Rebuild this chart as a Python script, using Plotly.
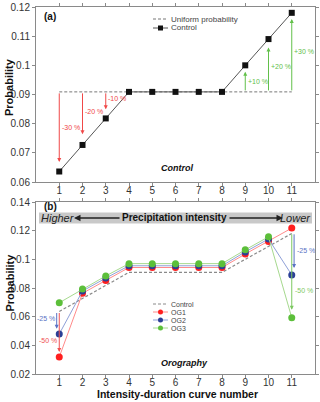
import plotly.graph_objects as go

# Curve numbers and probabilities.
curves = [1, 2, 3, 4, 5, 6, 7, 8, 9, 10, 11]
uniform = [0.0909] * 11
control = [0.0636, 0.0727, 0.0818, 0.0909, 0.0909, 0.0909, 0.0909, 0.0909, 0.1, 0.109, 0.118]
og1 = [0.0318, 0.0763, 0.0853, 0.0943, 0.0943, 0.0943, 0.0943, 0.0943, 0.1037, 0.1125, 0.1218]
og2 = [0.0479, 0.0779, 0.0869, 0.0955, 0.0955, 0.0955, 0.0955, 0.0955, 0.1052, 0.1142, 0.0891]
og3 = [0.0697, 0.0793, 0.0884, 0.0970, 0.0970, 0.0970, 0.0970, 0.0970, 0.1066, 0.1157, 0.0593]

# Change arrows in panel (a): curve, tip, label, label height.
a_arrow_x = [1, 2, 3, 9, 10, 11]
a_arrow_tip = [0.0669, 0.0764, 0.0849, 0.0978, 0.1061, 0.1159]
a_arrow_text = ["-30 %", "-20 %", "-10 %", "+10 %", "+20 %", "+30 %"]
a_text_y = [0.0786, 0.0843, 0.0888, 0.0946, 0.0996, 0.1047]

# Change arrows in panel (b).
b_arrow_x = [0.89, 1.0, 11.1, 11.0]
b_arrow_start = [0.0636, 0.0636, 0.1185, 0.1185]
b_arrow_tip = [0.0516, 0.0353, 0.0939, 0.0648]
b_arrow_text = ["-25 %", "-50 %", "-25 %", "-50 %"]
b_text_y = [0.0584, 0.0432, 0.1062, 0.0783]

FONT = "Liberation Sans, Arial, sans-serif"
RED, BLUE, GREEN = "#ff1f1f", "#2b3f96", "#5cbf3a"
RED_L, BLUE_L, GREEN_L = "#ff8a8a", "#8fa0d8", "#a6d98e"
A_COL = ["#f04848"] * 3 + ["#62c04a"] * 3
B_COL = ["#5a72c4", "#f05050", "#5a72c4", "#7cc860"]
DASH = "3px,2px"

# page layout in pixels
L, R, T, B = 36, 315, 7, 374


def px(x):
    return (x - L) / (R - L)


def py(y):
    return (B - y) / (B - T)


def label(x, y, text, size, color="#111", xanchor="center", angle=0):
    # text placed by pixel position on the page
    return dict(x=px(x), y=py(y), xref="paper", yref="paper", text=text, showarrow=False,
                xanchor=xanchor, yanchor="middle", textangle=angle, borderpad=0,
                font=dict(size=size, color=color, family=FONT))


fig = go.Figure()

# panel (a)
fig.add_trace(go.Scatter(x=curves, y=uniform, mode="lines", xaxis="x", yaxis="y",
                         line=dict(color="#777777", width=1, dash=DASH)))
fig.add_trace(go.Scatter(x=curves, y=control, mode="lines+markers", xaxis="x", yaxis="y",
                         line=dict(color="#555555", width=1),
                         marker=dict(symbol="square", size=6, color="#111111")))

# panel (b)
fig.add_trace(go.Scatter(x=curves, y=control, mode="lines", xaxis="x2", yaxis="y2",
                         line=dict(color="#8a8a8a", width=1.2, dash=DASH)))
for ys, lc, mc in [(og1, RED_L, RED), (og2, BLUE_L, BLUE), (og3, GREEN_L, GREEN)]:
    fig.add_trace(go.Scatter(x=curves, y=ys, mode="lines+markers", xaxis="x2", yaxis="y2",
                             line=dict(color=lc, width=1),
                             marker=dict(size=7, color=mc)))

ann = []
shapes = []

# arrows panel (a)
for x, tip, txt, ty, c in zip(a_arrow_x, a_arrow_tip, a_arrow_text, a_text_y, A_COL):
    ann.append(dict(x=x, y=tip, ax=x, ay=uniform[0], xref="x", yref="y", axref="x", ayref="y",
                    text="", showarrow=True, arrowhead=2, arrowsize=0.8, arrowwidth=1,
                    arrowcolor=c))
    ann.append(dict(x=x + 0.02, y=ty, xref="x", yref="y", text=txt, showarrow=False,
                    xanchor="left", yanchor="middle", font=dict(size=7, color=c, family=FONT)))

# arrows panel (b)
for i, (x, st, tip, txt, ty, c) in enumerate(zip(b_arrow_x, b_arrow_start, b_arrow_tip,
                                                   b_arrow_text, b_text_y, B_COL)):
    ann.append(dict(x=x, y=tip, ax=x, ay=st, xref="x2", yref="y2", axref="x2", ayref="y2",
                    text="", showarrow=True, arrowhead=2, arrowsize=0.8, arrowwidth=1,
                    arrowcolor=c))
    left = i < 2
    ann.append(dict(x=x + (0.05 if not left else 0.0), y=ty, xref="x2", yref="y2", text=txt,
                    showarrow=False, xanchor="left" if not left else "right", yanchor="middle",
                    font=dict(size=7, color=c, family=FONT)))

# panel labels, captions and axis titles
ann += [
    label(43, 17, "<b>(a)</b>", 10, xanchor="left"),
    label(43, 206.5, "<b>(b)</b>", 10, xanchor="left"),
    label(177, 168, "<b><i>Control</i></b>", 9),
    label(184, 363, "<b><i>Orography</i></b>", 9),
    label(9.5, 87.5, "<b>Probability</b>", 11, angle=-90),
    label(9.5, 283, "<b>Probability</b>", 11, angle=-90),
    label(177, 394, "<b>Intensity-duration curve number</b>", 10.5),
]

# precipitation intensity band
shapes.append(dict(type="rect", xref="paper", yref="paper", x0=px(39), x1=px(312),
                   y0=py(223.5), y1=py(212.5), fillcolor="#c9c9c9", line=dict(width=0),
                   layer="below"))
ann += [
    label(39.5, 218, "<i>Higher</i>", 11, color="#222", xanchor="left"),
    label(312, 218, "<i>Lower</i>", 11, color="#222", xanchor="right"),
    label(174, 218, "<b>Precipitation intensity</b>", 10),
    dict(x=px(74), y=py(218), ax=121 - 74, ay=0, xref="paper", yref="paper",
         axref="pixel", ayref="pixel", text="", showarrow=True, arrowhead=2, arrowsize=1,
         arrowwidth=1.3, arrowcolor="#222"),
    dict(x=px(283), y=py(218), ax=228 - 283, ay=0, xref="paper", yref="paper",
         axref="pixel", ayref="pixel", text="", showarrow=True, arrowhead=2, arrowsize=1,
         arrowwidth=1.3, arrowcolor="#222"),
]


# hand-made compact legends
def legend_row(y, text, color, size, dash=None, symbol=None, mcolor=None):
    shapes.append(dict(type="line", xref="paper", yref="paper", x0=px(153), x1=px(168),
                       y0=py(y), y1=py(y),
                       line=dict(color=color, width=1, dash=dash or "solid")))
    if symbol:
        shapes.append(dict(type=symbol, xref="paper", yref="paper", xsizemode="pixel",
                           ysizemode="pixel", xanchor=px(160.5), yanchor=py(y),
                           x0=-2.5, x1=2.5, y0=-2.5, y1=2.5, fillcolor=mcolor,
                           line=dict(width=0)))
    ann.append(label(170, y, text, size, color="#444", xanchor="left"))


legend_row(19, "Uniform probability", "#777777", 8, dash=DASH)
legend_row(28, "Control", "#555555", 8, symbol="rect", mcolor="#111111")
legend_row(304, "Control", "#8a8a8a", 7, dash=DASH)
legend_row(312, "OG1", RED_L, 7, symbol="circle", mcolor=RED)
legend_row(320, "OG2", BLUE_L, 7, symbol="circle", mcolor=BLUE)
legend_row(328, "OG3", GREEN_L, 7, symbol="circle", mcolor=GREEN)

axis_style = dict(showline=True, linecolor="#8a8a8a", linewidth=1, mirror="ticks",
                  ticks="outside", ticklen=3, tickcolor="#8a8a8a", showgrid=False,
                  zeroline=False, automargin=False,
                  tickfont=dict(size=10, color="#333", family=FONT))

fig.update_layout(
    template="none",
    width=320, height=402, showlegend=False,
    margin=dict(l=L, r=320 - R, t=T, b=402 - B, autoexpand=False),
    plot_bgcolor="white", paper_bgcolor="white",
    xaxis=dict(axis_style, domain=[0, 1], range=[0, 12], tickvals=curves, anchor="y",
               ticklabelstandoff=-4),
    yaxis=dict(axis_style, domain=[py(182), 1], range=[0.06, 0.12], dtick=0.01, tick0=0,
               anchor="x"),
    xaxis2=dict(axis_style, domain=[0, 1], range=[0, 12], tickvals=curves, anchor="y2",
                ticklabelstandoff=-4),
    yaxis2=dict(axis_style, domain=[0, py(202)], range=[0.02, 0.14], dtick=0.02, tick0=0,
                anchor="x2"),
    annotations=ann, shapes=shapes,
)

# the page's default 8px body margin would shift the figure
fig.write_html("out.html", config={"displayModeBar": False},
               post_script="document.body.style.margin = '0px';")
